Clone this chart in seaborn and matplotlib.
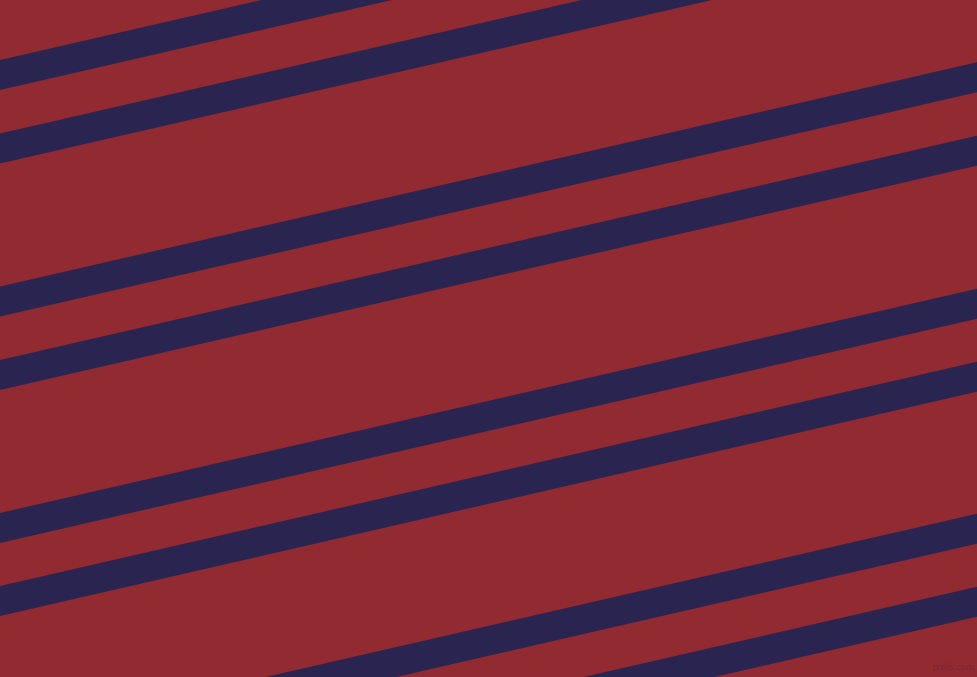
import numpy as np
import pandas as pd
import matplotlib
matplotlib.use('Agg')
import matplotlib.pyplot as plt
import seaborn as sns

# stripe centre heights (px) at the left edge, and the drop across the width
stripe_left = [75, 148.5, 301.5, 375, 528, 601, 753, 826]
stripe_drop = 224.5
stripe_thick = 30
width, height = 978, 677

bg_color = '#922A31'
stripe_color = '#2A2550'

sns.set_theme(style='white')
fig = plt.figure(figsize=(9.78, 6.77), dpi=100)
ax = fig.add_axes([0, 0, 1, 1])
ax.set_facecolor(bg_color)

x = np.array([-50, width + 50])
rows = []
for i, b in enumerate(stripe_left):
    for xx in x:
        rows.append({'stripe': i, 'x': xx, 'y': b - stripe_drop * xx / width})
df = pd.DataFrame(rows)

for i, g in df.groupby('stripe'):
    ax.fill_between(g['x'], g['y'] - stripe_thick / 2, g['y'] + stripe_thick / 2,
                    color=stripe_color, linewidth=0)

ax.text(975, 667, 'pixlis.com', fontsize=6, color='#7E2530', ha='right', va='center')

ax.set_xlim(0, width)
ax.set_ylim(height, 0)
ax.axis('off')
fig.savefig('out.png', dpi=100, facecolor=bg_color)
